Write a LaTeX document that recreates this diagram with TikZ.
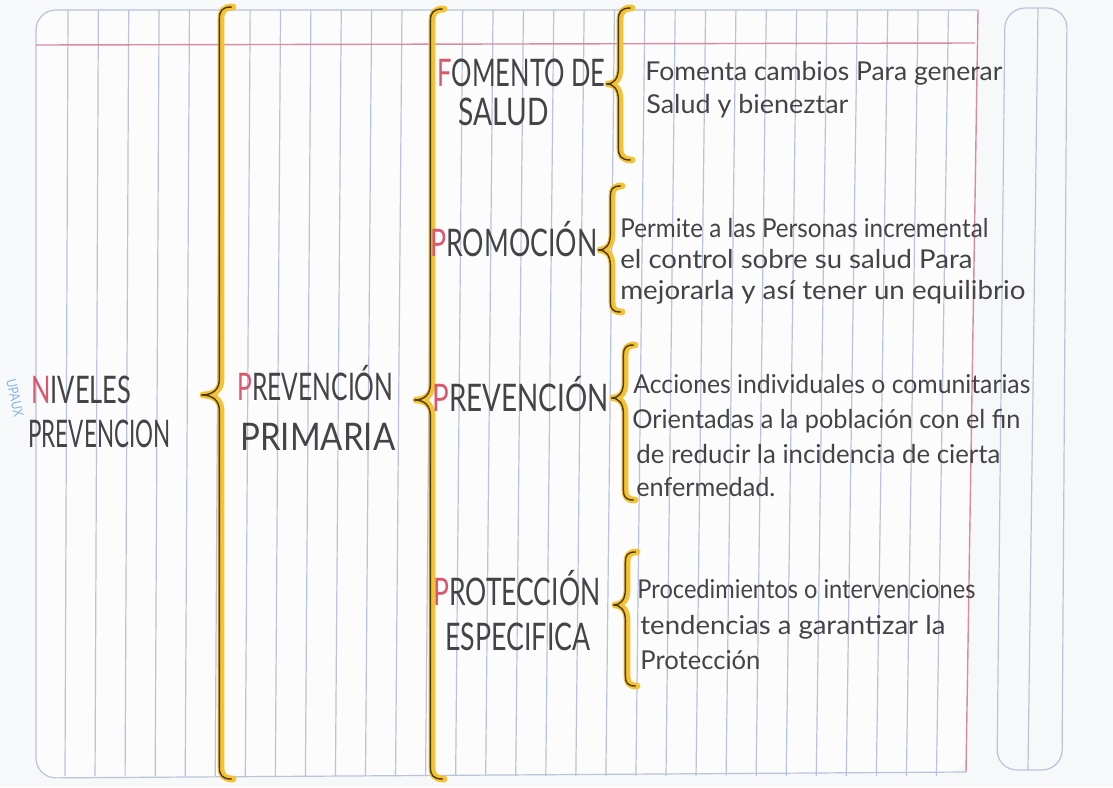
\documentclass[tikz,border=0pt]{standalone}
\usepackage{fontspec}
\usepackage{graphicx}
\setmainfont{Lato}
\definecolor{bg}{HTML}{F7F8FA}
\definecolor{blueln}{HTML}{B9C3DA}
\definecolor{pinkln}{HTML}{D98BA0}
\definecolor{pk}{HTML}{D9576F}
\definecolor{ink}{HTML}{444446}
\definecolor{ylw}{HTML}{F4C232}
\definecolor{ydark}{HTML}{4A3A12}
\definecolor{lblue}{HTML}{86B6E2}
\newcommand\ybrace[6]{% x, top, tip, bottom, depth, curl
  \foreach \sty/\sh in {ybr/0pt, ybrline/-0.8pt}{%
  \draw[\sty, xshift=\sh] ({#1+#6},#2) .. controls ({#1+0.2*#6},#2) and (#1,{#2+0.35*#6}) .. (#1,{#2+#6})
    -- (#1,{#3-16}) .. controls (#1,{#3-5}) and ({#1-0.4*#5},#3) .. ({#1-#5},#3)
    .. controls ({#1-0.4*#5},#3) and (#1,{#3+5}) .. (#1,{#3+16})
    -- (#1,{#4-#6}) .. controls (#1,{#4-0.35*#6}) and ({#1+0.2*#6},#4) .. ({#1+#6},#4);}%
}
\newcommand\tfont{\fontsize{19}{19}\selectfont}
\newcommand\dfont{\fontsize{13}{13}\selectfont}
\begin{document}
\begin{tikzpicture}[x=0.5pt,y=-0.5pt,
  thin blue/.style={draw=blueln, line width=0.6pt},
  ybr/.style={draw=ylw, line width=3.4pt, line cap=round, line join=round},
  ybrline/.style={draw=ydark, line width=0.7pt, line cap=round, line join=round},
  tt/.style={anchor=base west, inner sep=0pt, text=ink, font=\tfont},
  dd/.style={anchor=base west, inner sep=0pt, text=ink, font=\dfont}]
\fill[bg] (0,0) rectangle (1113,787);
\useasboundingbox (0,0) rectangle (1113,787);
% notebook page
\fill[white!60!bg, rounded corners=10pt] (978,10) -- (36,10) -- (36,778) -- (966,772) -- cycle;
\foreach \k in {0,...,29}{
  \pgfmathsetmacro\xt{68+30.36*\k}
  \pgfmathsetmacro\xb{\xt-(3+9*(\xt-68)/880)}
  \draw[thin blue] (\xt,10) -- (\xb,776);
}
\draw[thin blue, rounded corners=10pt] (978,10) -- (36,10) -- (36,778) -- (966,772);
\draw[pinkln, line width=0.7pt] (36,45) -- (975,43);
\draw[pinkln, line width=0.7pt] (978,10) -- (966,772);
% right margin strip
\draw[thin blue, rounded corners=10pt] (1005,8) -- (1067,8) -- (1062,770) -- (997,770) -- cycle;
\draw[thin blue] (1038,8) -- (1028,770);
% braces
\ybrace{221}{7}{395}{779}{18}{12}
\ybrace{432}{9}{400}{779}{16}{12}
\ybrace{620}{8}{84}{160}{12}{12}
\ybrace{612}{186}{250}{312}{12}{10}
\ybrace{625}{345}{398}{500}{12}{10}
\ybrace{627}{552}{605}{686}{12}{10}
% small blue note
\node[rotate=-78, inner sep=0pt, text=lblue, font=\fontsize{7}{7}\selectfont] (note) at (15,398) {\resizebox{19pt}{\height}{UPAUX}};
% titles
\node[tt] (niv) at (31,403) {\resizebox{50pt}{\height}{\textcolor{pk}{N}IVELES}};
\node[tt] (prev) at (28,447) {\resizebox{71pt}{\height}{PREVENCION}};
\node[tt] (pp1) at (237,400) {\resizebox{78pt}{\height}{\textcolor{pk}{P}REVENCIÓN}};
\node[tt] (pp2) at (240,450) {\resizebox{77.5pt}{\height}{PRIMARIA}};
\node[tt] (fo1) at (437,86) {\resizebox{84pt}{\height}{\textcolor{pk}{F}OMENTO DE}};
\node[tt] (fo2) at (458,125) {\resizebox{45pt}{\height}{SALUD}};
\node[tt] (pro) at (430,256) {\resizebox{83.5pt}{\height}{\textcolor{pk}{P}ROMOCIÓN}};
\node[tt] (pre) at (432,411) {\resizebox{88pt}{\height}{\textcolor{pk}{P}REVENCIÓN}};
\node[tt] (pt1) at (433,605) {\resizebox{83.5pt}{\height}{\textcolor{pk}{P}ROTECCIÓN}};
\node[tt] (pt2) at (445,650) {\resizebox{72.5pt}{\height}{ESPECIFICA}};
% descriptions
\node[dd] (d11) at (645,81) {\resizebox{178.5pt}{\height}{Fomenta cambios Para generar}};
\node[dd] (d12) at (646,113) {\resizebox{101pt}{\height}{Salud y bieneztar}};
\node[dd] (d21) at (620,237) {\resizebox{184pt}{\height}{Permite a las Personas incremental}};
\node[dd] (d22) at (620,268) {\resizebox{176pt}{\height}{el control sobre su salud Para}};
\node[dd] (d23) at (620,299) {\resizebox{202.5pt}{\height}{mejorarla y así tener un equilibrio}};
\node[dd] (d31) at (633,393) {\resizebox{198.5pt}{\height}{Acciones individuales o comunitarias}};
\node[dd] (d32) at (632,428) {\resizebox{194pt}{\height}{Orientadas a la población con el fin}};
\node[dd] (d33) at (636,463) {\resizebox{182pt}{\height}{de reducir la incidencia de cierta}};
\node[dd] (d34) at (636,496) {\resizebox{69.5pt}{\height}{enfermedad.}};
\node[dd] (d41) at (637,598) {\resizebox{169pt}{\height}{Procedimientos o intervenciones}};
\node[dd] (d42) at (640,634) {\resizebox{152.5pt}{\height}{tendencias a garantizar la}};
\node[dd] (d43) at (640,669) {\resizebox{60pt}{\height}{Protección}};
\end{tikzpicture}
\end{document}
